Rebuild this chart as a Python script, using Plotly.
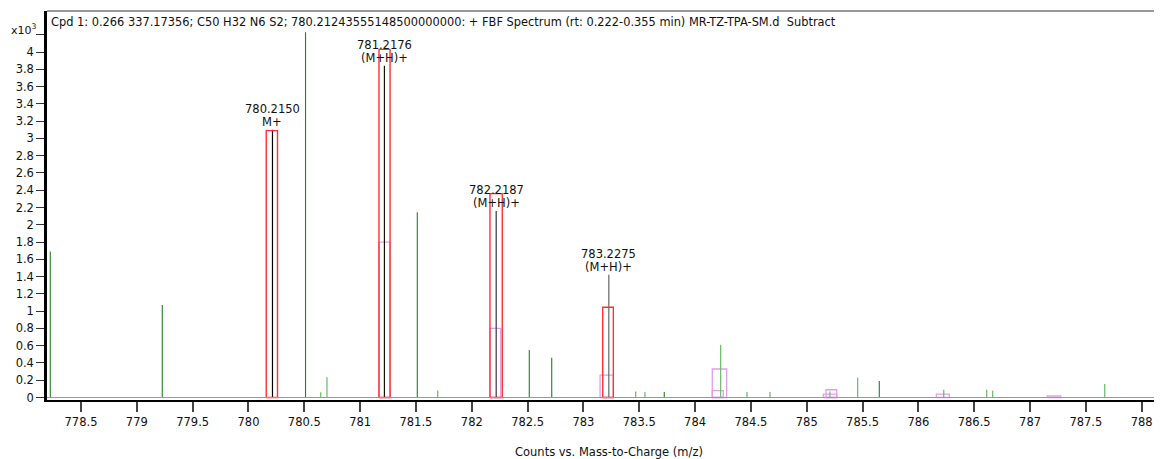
import plotly.graph_objects as go

# ---------------- data (intensities in x10^3 counts) ----------------
peak_mz = [780.2150, 781.2176, 782.2187, 783.2275]
peak_h = [3.10, 3.84, 2.16, 1.42]
peak_color = ["#000000", "#111111", "#333333", "#666666"]
peak_label = ["780.2150", "781.2176", "782.2187", "783.2275"]
peak_ion = ["M+", "(M+H)+", "(M+H)+", "(M+H)+"]

green_dark_mz = [778.225, 779.228, 780.511, 781.512, 782.515, 782.716, 783.724, 785.650]
green_dark_h = [1.69, 1.07, 4.23, 2.145, 0.55, 0.46, 0.065, 0.19]

green_light_mz = [780.647, 780.703, 781.695, 783.468, 783.551, 784.229, 784.465,
                  784.671, 785.208, 785.456, 786.227, 786.612, 786.665, 787.669]
green_light_h = [0.06, 0.235, 0.08, 0.07, 0.065, 0.61, 0.065,
                 0.065, 0.07, 0.23, 0.09, 0.09, 0.08, 0.155]

# theoretical isotope boxes (red)
red_lo = [780.159, 781.169, 782.163, 783.173]
red_hi = [780.260, 781.268, 782.273, 783.268]
red_top = [3.09, 4.03, 2.36, 1.045]

# secondary pattern boxes (pink)
pink_lo = [781.169, 782.163, 783.149, 784.154, 784.154, 785.149, 785.173, 786.161, 787.155, 788.160]
pink_hi = [781.268, 782.259, 783.268, 784.283, 784.253, 785.269, 785.269, 786.277, 787.275, 788.280]
pink_top = [1.80, 0.80, 0.26, 0.33, 0.08, 0.04, 0.09, 0.04, 0.02, 0.01]

y_tickvals = [0, 0.2, 0.4, 0.6, 0.8, 1, 1.2, 1.4, 1.6, 1.8, 2, 2.2, 2.4, 2.6,
              2.8, 3, 3.2, 3.4, 3.6, 3.8, 4, 4.2]
y_ticktext = ["0", "0.2", "0.4", "0.6", "0.8", "1", "1.2", "1.4", "1.6", "1.8", "2",
              "2.2", "2.4", "2.6", "2.8", "3", "3.2", "3.4", "3.6", "3.8", "4", " "]
x_tickvals = [778.5, 779, 779.5, 780, 780.5, 781, 781.5, 782, 782.5, 783, 783.5,
              784, 784.5, 785, 785.5, 786, 786.5, 787, 787.5, 788]
x_ticktext = ["778.5", "779", "779.5", "780", "780.5", "781", "781.5", "782", "782.5",
              "783", "783.5", "784", "784.5", "785", "785.5", "786", "786.5", "787",
              "787.5", "788"]

title_text = ("Cpd 1: 0.266 337.17356; C50 H32 N6 S2; 780.21243555148500000000: + FBF "
              "Spectrum (rt: 0.222-0.355 min) MR-TZ-TPA-SM.d  Subtract")
x_title = "Counts vs. Mass-to-Charge (m/z)"

FONT = "DejaVu Sans"


def sticks(mz, h):
    xs, ys = [], []
    for m, v in zip(mz, h):
        xs += [m, m, None]
        ys += [0, v, None]
    return xs, ys


def boxes(lo, hi, top):
    xs, ys = [], []
    for a, b, t in zip(lo, hi, top):
        xs += [a, a, b, b, a, None]
        ys += [0, t, t, 0, 0, None]
    return xs, ys


fig = go.Figure()

px, py = boxes(pink_lo, pink_hi, pink_top)
fig.add_trace(go.Scatter(x=px, y=py, mode="lines", line=dict(color="#e0a0e6", width=1.3),
                         hoverinfo="skip", showlegend=False))

gx, gy = sticks(green_light_mz, green_light_h)
fig.add_trace(go.Scatter(x=gx, y=gy, mode="lines", line=dict(color="#72bd72", width=1.3),
                         hoverinfo="skip", showlegend=False))
gx, gy = sticks(green_dark_mz, green_dark_h)
fig.add_trace(go.Scatter(x=gx, y=gy, mode="lines", line=dict(color="#1f841f", width=1.1),
                         hoverinfo="skip", showlegend=False))

for m, h, c in zip(peak_mz, peak_h, peak_color):
    bx, by = sticks([m], [h])
    fig.add_trace(go.Scatter(x=bx, y=by, mode="lines", line=dict(color=c, width=1.2),
                             hoverinfo="skip", showlegend=False))

rx, ry = boxes(red_lo, red_hi, red_top)
fig.add_trace(go.Scatter(x=rx, y=ry, mode="lines", line=dict(color="#ff3030", width=1.4),
                         hoverinfo="skip", showlegend=False))

annotations = []
for m, h, lab, ion in zip(peak_mz, peak_h, peak_label, peak_ion):
    annotations.append(dict(x=m, y=h, xref="x", yref="y", text=lab, showarrow=False,
                            yanchor="middle", yshift=20.5,
                            font=dict(family=FONT, size=11.5, color="#111")))
    annotations.append(dict(x=m, y=h, xref="x", yref="y", text=ion, showarrow=False,
                            yanchor="middle", yshift=8,
                            font=dict(family=FONT, size=11.5, color="#111")))

annotations.append(dict(x=0.0018, y=0.9717, xref="paper", yref="paper", text=title_text,
                        showarrow=False, xanchor="left", yanchor="middle",
                        font=dict(family=FONT, size=11.4, color="#111")))
annotations.append(dict(x=-0.0085, y=0.9537, xref="paper", yref="paper",
                        text="x10<sup>3</sup>", showarrow=False, xanchor="right",
                        yanchor="middle", borderpad=0,
                        font=dict(family=FONT, size=11, color="#111")))
annotations.append(dict(x=0.504, y=-0.1337, xref="paper", yref="paper", text=x_title,
                        showarrow=False, xanchor="center", yanchor="middle",
                        font=dict(family=FONT, size=11.5, color="#111")))

# page body has an 8px default margin, so the figure is sized/offset to fit the window
fig.update_layout(
    width=1154, height=451,
    margin=dict(l=39, r=0, t=3, b=59),
    paper_bgcolor="white", plot_bgcolor="white",
    annotations=annotations,
    shapes=[
        dict(type="line", xref="paper", yref="paper", x0=0, x1=1, y0=1, y1=1,
             line=dict(color="#777777", width=1.5)),
        dict(type="line", xref="paper", yref="y", x0=0, x1=1, y0=0, y1=0,
             line=dict(color="#999999", width=1.2)),
    ],
    xaxis=dict(range=[778.1955, 788.182], tickmode="array", tickvals=x_tickvals,
               ticktext=x_ticktext, ticks="outside", ticklen=10, tickwidth=1.5,
               tickcolor="#444", showline=True, linecolor="#000", linewidth=2,
               showgrid=False, zeroline=False,
               tickfont=dict(family=FONT, size=11.5, color="#111")),
    yaxis=dict(range=[-0.0289, 4.4747], tickmode="array", tickvals=y_tickvals,
               ticktext=y_ticktext, ticks="outside", ticklen=8, tickwidth=1.2,
               tickcolor="#333", showline=True, linecolor="#000", linewidth=2.5,
               showgrid=False, zeroline=False,
               tickfont=dict(family=FONT, size=11.5, color="#111")),
)

fig.write_html("out.html")
